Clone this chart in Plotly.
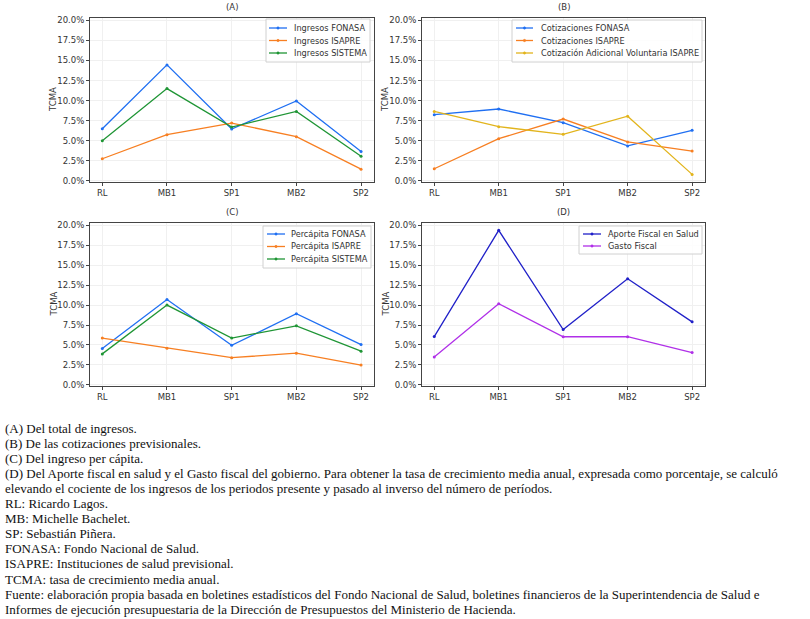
import plotly.graph_objects as go

periodos = ["RL", "MB1", "SP1", "MB2", "SP2"]

# (A) Ingresos
ing_fonasa = [6.5, 14.45, 6.45, 9.95, 3.64]
ing_isapre = [2.75, 5.75, 7.2, 5.5, 1.45]
ing_sistema = [5.0, 11.5, 6.7, 8.65, 3.05]

# (B) Cotizaciones
cot_fonasa = [8.25, 8.95, 7.25, 4.35, 6.3]
cot_isapre = [1.5, 5.25, 7.7, 4.85, 3.7]
cot_adicional = [8.65, 6.75, 5.8, 8.05, 0.8]

# (C) Percápita
pc_fonasa = [4.55, 10.7, 4.95, 8.93, 5.05]
pc_isapre = [5.87, 4.6, 3.4, 3.97, 2.48]
pc_sistema = [3.88, 10.0, 5.87, 7.4, 4.22]

# (D) Fiscal
aporte_fiscal = [6.05, 19.38, 6.94, 13.3, 7.9]
gasto_fiscal = [3.5, 10.17, 6.03, 6.03, 4.05]

yticks = [0, 2.5, 5, 7.5, 10, 12.5, 15, 17.5, 20]
ytick_text = ["%.1f%%" % v for v in yticks]

notas = [
    "(A) Del total de ingresos.",
    "(B) De las cotizaciones previsionales.",
    "(C) Del ingreso per cápita.",
    "(D) Del Aporte fiscal en salud y el Gasto fiscal del gobierno. Para obtener la tasa de crecimiento media anual, expresada como porcentaje, se calculó",
    "elevando el cociente de los ingresos de los periodos presente y pasado al inverso del número de períodos.",
    "RL: Ricardo Lagos.",
    "MB: Michelle Bachelet.",
    "SP: Sebastián Piñera.",
    "FONASA: Fondo Nacional de Salud.",
    "ISAPRE: Instituciones de salud previsional.",
    "TCMA: tasa de crecimiento media anual.",
    "Fuente: elaboración propia basada en boletines estadísticos del Fondo Nacional de Salud, boletines financieros de la Superintendencia de Salud e",
    "Informes de ejecución presupuestaria de la Dirección de Presupuestos del Ministerio de Hacienda.",
]

BLUE = "#1f6ff2"
ORANGE = "#f77f22"
GREEN = "#1f9535"
YELLOW = "#e2b41c"
DBLUE = "#2020c8"
PURPLE = "#b030e8"

W, H = 810, 619


def fx(px):
    return px / W


def fy(py):
    return 1 - py / H


panels = [
    dict(title="(A)", x=(90, 374), y=(18, 182),
         series=[("Ingresos FONASA", ing_fonasa, BLUE),
                 ("Ingresos ISAPRE", ing_isapre, ORANGE),
                 ("Ingresos SISTEMA", ing_sistema, GREEN)],
         box=(266, 19, 370, 62), rows=[28, 40.5, 53], line=(269, 287), text=292),
    dict(title="(B)", x=(422, 705), y=(18, 182),
         series=[("Cotizaciones FONASA", cot_fonasa, BLUE),
                 ("Cotizaciones ISAPRE", cot_isapre, ORANGE),
                 ("Cotización Adicional Voluntaria ISAPRE", cot_adicional, YELLOW)],
         box=(512, 20, 702, 62), rows=[28, 40.5, 53], line=(516, 533), text=539),
    dict(title="(C)", x=(90, 374), y=(223, 386),
         series=[("Percápita FONASA", pc_fonasa, BLUE),
                 ("Percápita ISAPRE", pc_isapre, ORANGE),
                 ("Percápita SISTEMA", pc_sistema, GREEN)],
         box=(263, 226, 371, 268), rows=[234, 246.5, 259], line=(267, 285), text=289),
    dict(title="(D)", x=(422, 705), y=(223, 386),
         series=[("Aporte Fiscal en Salud", aporte_fiscal, DBLUE),
                 ("Gasto Fiscal", gasto_fiscal, PURPLE)],
         box=(579, 226, 702, 254), rows=[234, 246], line=(583, 601), text=606),
]

fig = go.Figure()
layout = dict(
    width=W, height=H,
    margin=dict(l=0, r=0, t=0, b=0),
    paper_bgcolor="white", plot_bgcolor="white",
    font=dict(family="DejaVu Sans", size=9, color="#333333"),
    showlegend=False,
    annotations=[],
    shapes=[],
)

for i, p in enumerate(panels):
    n = "" if i == 0 else str(i + 1)
    for name, vals, col in p["series"]:
        fig.add_trace(go.Scatter(
            x=periodos, y=vals, name=name, mode="lines+markers",
            line=dict(color=col, width=1.3),
            marker=dict(color=col, size=3),
            xaxis="x" + n, yaxis="y" + n,
        ))
    layout["xaxis" + n] = dict(
        domain=[fx(p["x"][0]), fx(p["x"][1])], anchor="y" + n, type="category",
        range=[-0.19, 4.2], showgrid=True, gridcolor="#f0f0f0", gridwidth=1,
        showline=True, linecolor="#444444", linewidth=1, mirror=True,
        ticks="outside", ticklen=3, tickcolor="#444444",
        tickfont=dict(size=8.5, color="#333333"), zeroline=False,
        automargin=False,
    )
    layout["yaxis" + n] = dict(
        domain=[fy(p["y"][1]), fy(p["y"][0])], anchor="x" + n, range=[-0.15, 20.3],
        tickvals=yticks, ticktext=ytick_text,
        showgrid=True, gridcolor="#f0f0f0", gridwidth=1,
        showline=True, linecolor="#444444", linewidth=1, mirror=True,
        ticks="outside", ticklen=3, tickcolor="#444444",
        tickfont=dict(size=8.5, color="#333333"), zeroline=False,
        automargin=False,
    )
    # y-axis title
    layout["annotations"].append(dict(
        text="TCMA", xref="paper", yref="paper", textangle=-90,
        x=fx(p["x"][0] - 37), y=fy((p["y"][0] + p["y"][1]) / 2),
        xanchor="center", yanchor="middle", showarrow=False,
        font=dict(size=8.5, color="#333333"),
    ))
    # panel title
    layout["annotations"].append(dict(
        text=p["title"], xref="paper", yref="paper",
        x=fx((p["x"][0] + p["x"][1]) / 2), y=fy(p["y"][0] - 11),
        xanchor="center", yanchor="middle", showarrow=False,
        font=dict(size=8.5, color="#333333"),
    ))
    # legend box
    bx0, by0, bx1, by1 = p["box"]
    layout["shapes"].append(dict(
        type="rect", xref="paper", yref="paper",
        x0=fx(bx0), x1=fx(bx1), y0=fy(by1), y1=fy(by0),
        line=dict(color="#d0d0d0", width=1), fillcolor="rgba(255,255,255,0.85)",
        layer="above",
    ))
    lx0, lx1 = p["line"]
    for (name, vals, col), ry in zip(p["series"], p["rows"]):
        layout["shapes"].append(dict(
            type="line", xref="paper", yref="paper",
            x0=fx(lx0), x1=fx(lx1), y0=fy(ry), y1=fy(ry),
            line=dict(color=col, width=1.3), layer="above",
        ))
        cx = (lx0 + lx1) / 2
        layout["shapes"].append(dict(
            type="circle", xref="paper", yref="paper",
            x0=fx(cx - 1.2), x1=fx(cx + 1.2), y0=fy(ry + 1.2), y1=fy(ry - 1.2),
            line=dict(color=col, width=0.5), fillcolor=col, layer="above",
        ))
        layout["annotations"].append(dict(
            text=name, xref="paper", yref="paper",
            x=fx(p["text"]), y=fy(ry), xanchor="left", yanchor="middle",
            showarrow=False, font=dict(size=8.2, color="#333333"),
        ))

y0 = 428
for k, line in enumerate(notas):
    layout["annotations"].append(dict(
        text=line, xref="paper", yref="paper",
        x=fx(3), y=fy(y0 + k * 15.1),
        xanchor="left", yanchor="middle", showarrow=False,
        font=dict(family="Liberation Serif", size=13, color="#111111"),
    ))

fig.update_layout(**layout)
fig.write_html(
    "out.html",
    config={"displayModeBar": False},
    post_script="document.body.style.margin='0';document.body.style.overflow='hidden';",
)
